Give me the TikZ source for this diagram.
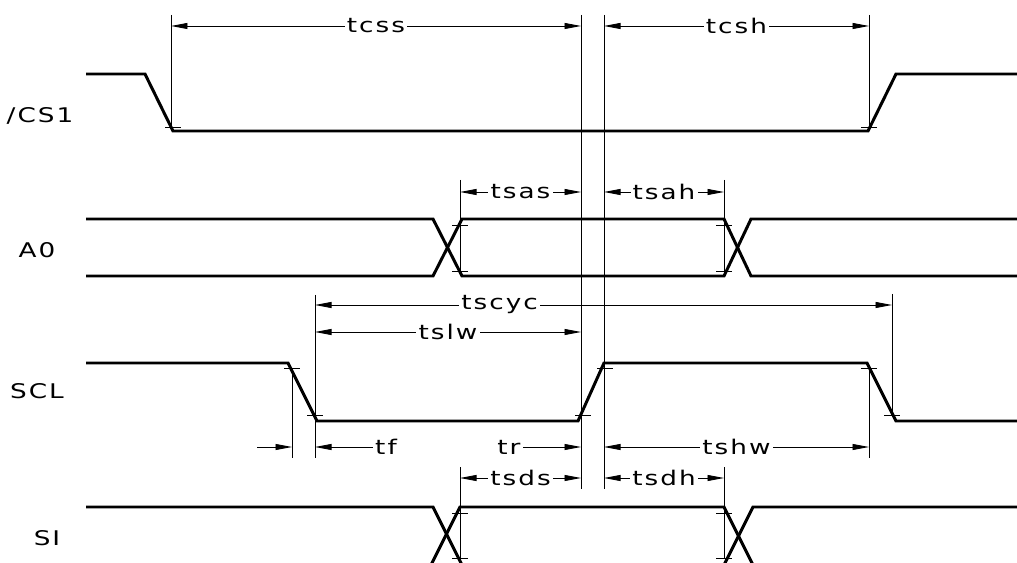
\documentclass[tikz,border=0pt]{standalone}
\usepackage{fontspec}
\newfontfamily\cadfont[FakeStretch=1.3,LetterSpace=10]{DejaVu Sans}
\usetikzlibrary{arrows.meta}
\def\tick(#1,#2){\draw[ext] (#1-8,#2) -- (#1+8,#2);}
\tikzset{
	sig/.style={line width=1.7pt, line join=miter},
	ext/.style={line width=0.5pt},
	tip/.tip={Triangle[length=3.3mm,width=1.2mm]},
	dim/.style={ext, tip-tip},
	lbl/.style={fill=white, inner sep=1.2pt, font=\cadfont\fontsize{11.5}{12}\selectfont},
	sname/.style={font=\cadfont\fontsize{11.5}{12}\selectfont}
}

\begin{document}
\begin{tikzpicture}[x=0.02cm, y=-0.02cm]
			%%%%% START %%%%%
			\useasboundingbox (0, 0) rectangle (1017, 563);
			\clip (0, 0) rectangle (1017, 563);
			
			\node[sname] (cs) at (40, 116) {/CS1};
			\node[sname] (ao) at (37, 250) {A0};
			\node[sname] (scl) at (37, 391) {SCL};
			\node[sname] (si) at (47, 538) {SI};
			
			% signals
			\draw[sig] (86, 74) -- (145, 74) -- (173, 131) -- (868, 131) -- (896, 74) -- (1017, 74);
			
			\draw[sig] (86, 219) -- (433, 219) -- (462, 276) -- (724, 276) -- (751, 219) -- (1017, 219);
			\draw[sig] (86, 276) -- (433, 276) -- (462, 219) -- (724, 219) -- (751, 276) -- (1017, 276);
			
			\draw[sig] (86, 363) -- (288, 363) -- (317, 421) -- (578, 421) -- (604, 363) -- (867, 363) -- (896, 421) -- (1017, 421);
			
			\draw[sig] (86, 507) -- (433, 507) -- (464, 569) -- (722, 569) -- (753, 507) -- (1017, 507);
			\draw[sig] (429, 569) -- (460, 507) -- (724, 507) -- (755, 569);
			
			% extension lines
			\draw[ext] (171, 15) -- (171, 131);
			\draw[ext] (869, 15) -- (869, 131);
			\draw[ext] (581, 15) -- (581, 489);
			\draw[ext] (604, 15) -- (604, 489);
			\draw[ext] (460, 180) -- (460, 271);
			\draw[ext] (724, 180) -- (724, 271);
			\draw[ext] (292, 368) -- (292, 458);
			\draw[ext] (315, 295) -- (315, 458);
			\draw[ext] (869, 368) -- (869, 458);
			\draw[ext] (892, 294) -- (892, 415);
			\draw[ext] (460, 467) -- (460, 558);
			\draw[ext] (724, 467) -- (724, 558);
			
			\tick(173, 127) \tick(869, 127)
			\tick(460, 225) \tick(460, 271) \tick(724, 225) \tick(724, 271)
			\tick(292, 368) \tick(315, 415) \tick(583, 415) \tick(605, 368)
			\tick(869, 368) \tick(892, 415)
			\tick(460, 513) \tick(460, 558) \tick(724, 513) \tick(724, 558)
			
			% dimensions
			\draw[dim] (171, 26) -- node[lbl] (tcss) {tcss} (581, 26);
			\draw[dim] (604, 26) -- node[lbl] (tcsh) {tcsh} (869, 26);
			
			\draw[dim] (460, 192) -- node[lbl] (tsas) {tsas} (581, 192);
			\draw[dim] (604, 192) -- node[lbl] (tsah) {tsah} (724, 192);
			
			\draw[dim] (315, 305) -- node[lbl, pos=0.32] (tscyc) {tscyc} (892, 305);
			\draw[dim] (315, 332) -- node[lbl] (tslw) {tslw} (581, 332);
			
			\node[lbl] (tf) at (386, 447) {tf};
			\node[lbl] (tr) at (509, 447) {tr};
			\draw[ext, -tip] (257, 447) -- (292, 447);
			\draw[ext, tip-] (315, 447) -- (tf.west);
			\draw[ext, -tip] (tr.east) -- (581, 447);
			\draw[dim] (604, 447) -- node[lbl] (tshw) {tshw} (869, 447);
			
			\draw[dim] (460, 478) -- node[lbl] (tsds) {tsds} (581, 478);
			\draw[dim] (604, 478) -- node[lbl] (tsdh) {tsdh} (724, 478);
			
			%%%%% END %%%%%
		\end{tikzpicture}
\end{document}
